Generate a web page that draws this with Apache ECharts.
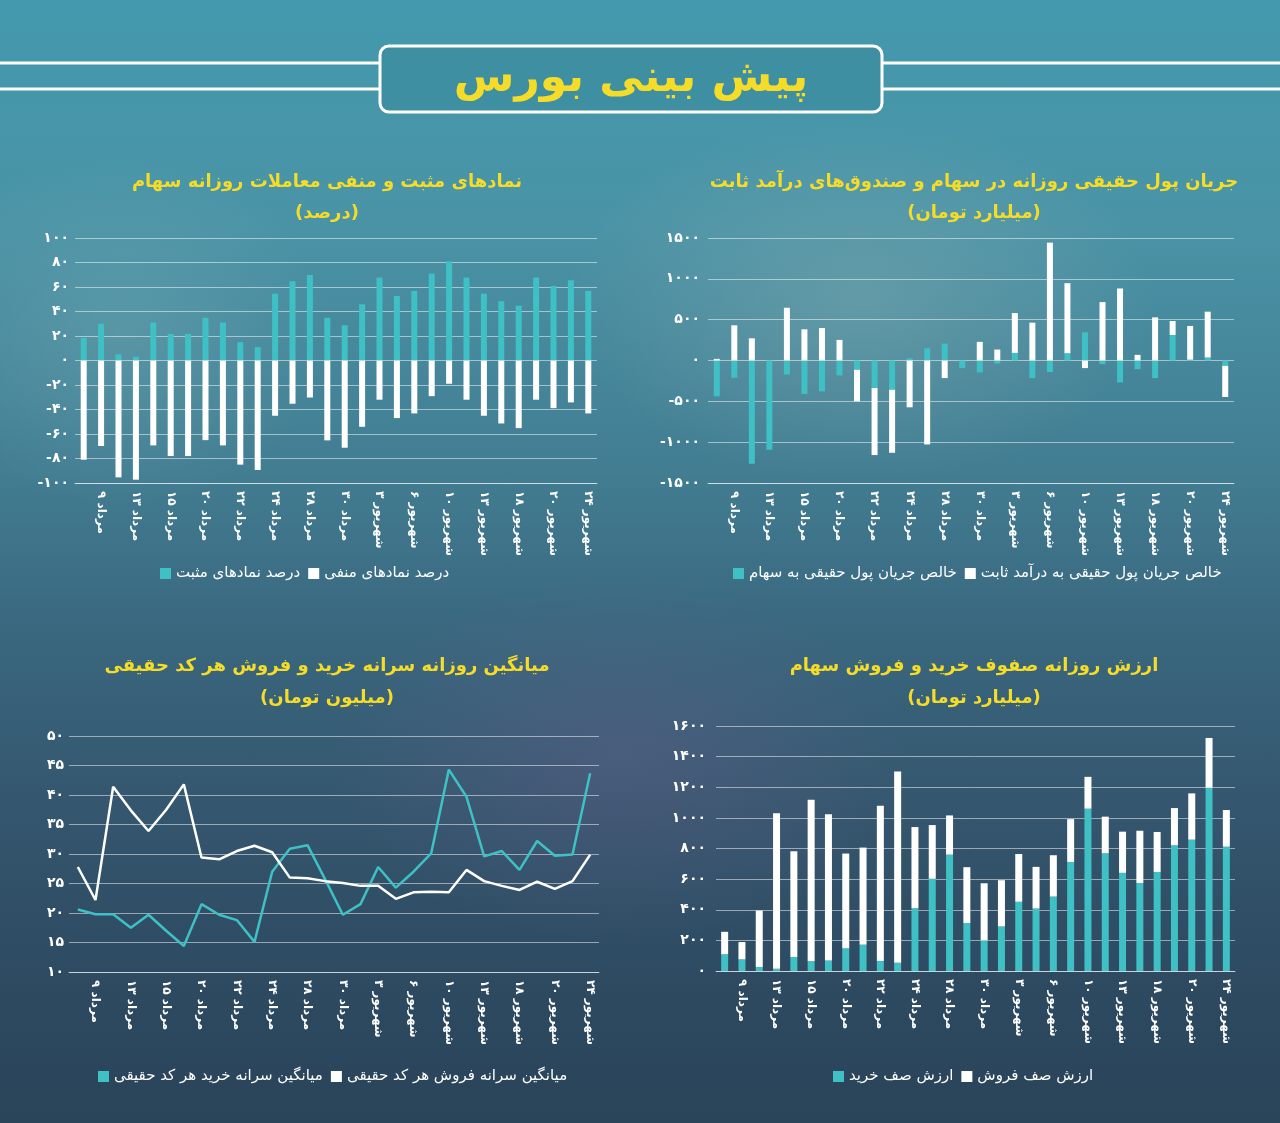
<!DOCTYPE html>
<html>
<head>
<meta charset="utf-8">
<script src="https://cdn.jsdelivr.net/npm/echarts@6/dist/echarts.min.js"></script>
<style>
html,body{margin:0;padding:0;}
body{width:1280px;height:1123px;overflow:hidden;
background:
 radial-gradient(ellipse 420px 260px at 860px 300px, rgba(150,180,180,0.35), rgba(150,180,180,0) 70%),
 radial-gradient(ellipse 300px 250px at 120px 330px, rgba(130,180,185,0.30), rgba(130,180,185,0) 70%),
 radial-gradient(ellipse 420px 260px at 620px 760px, rgba(110,95,140,0.35), rgba(110,95,140,0) 70%),
 linear-gradient(180deg, #4399ad 0%, #4a93a6 20%, #427d92 42%, #3a6980 55%, #34566e 72%, #2d4a61 88%, #2a4459 100%);}
#main{width:1280px;height:1123px;}
</style>
</head>
<body>
<div id="main"></div>
<script>
// ---------- data ----------
const dates = ['۸ مرداد','۹ مرداد','۱۰ مرداد','۱۳ مرداد','۱۴ مرداد','۱۵ مرداد','۱۶ مرداد','۲۰ مرداد','۲۱ مرداد','۲۲ مرداد','۲۳ مرداد','۲۴ مرداد','۲۷ مرداد','۲۸ مرداد','۲۹ مرداد','۳۰ مرداد','۳۱ مرداد','۳ شهریور','۴ شهریور','۶ شهریور','۷ شهریور','۱۰ شهریور','۱۱ شهریور','۱۳ شهریور','۱۴ شهریور','۱۸ شهریور','۱۹ شهریور','۲۰ شهریور','۲۱ شهریور','۲۴ شهریور'];

// chart 1: positive / negative symbols (%)
const positivePct = [18.5,30,5,3,31,21.7,21.7,34.8,31,15,10.9,54.6,64.7,69.8,34.8,28.8,45.9,67.7,52.7,56.8,70.9,81,67.7,54.6,48.4,44.8,67.7,60.9,65.5,56.8];
const negativePct = [-81,-69.8,-95.4,-97.3,-69.3,-78,-78,-65,-69.3,-85,-89.4,-45.1,-35.3,-30.2,-65.2,-71.2,-54.1,-32,-47,-43.2,-29.1,-19,-32,-45.1,-51.4,-55.2,-32,-38.9,-34.2,-43.2];

// chart 2: net real money flow (billion toman)
const flowStocks = [-439,-211,-1264,-1093,-171,-411,-378,-183,-114,-337,-358,28,150,207,-93,-146,-37,93,-215,-142,89,345,-45,-268,-106,-215,313,10,37,-65];
const flowFixed  = [20,431,272,0,646,382,398,252,-386,-821,-772,-573,-1028,-215,0,228,134,488,463,1443,858,-93,715,882,69,528,171,413,561,-382];

// chart 3: average per-capita buy / sell (million toman)
const perCapitaBuy  = [20.6,19.8,19.8,17.5,19.7,17.0,14.4,21.5,19.7,18.8,15.1,27.0,30.9,31.5,25.7,19.7,21.5,27.8,24.3,27.0,30.1,44.3,39.7,29.6,30.5,27.3,32.2,29.7,29.9,43.7];
const perCapitaSell = [27.8,22.2,41.4,37.4,33.9,37.5,41.8,29.4,29.1,30.5,31.4,30.3,26.0,25.9,25.4,25.1,24.6,24.6,22.4,23.5,23.6,23.5,27.3,25.4,24.6,23.9,25.3,24.1,25.4,29.9];

// chart 4: buy / sell queue value (billion toman)
const buyQueue  = [109,76,26,15,91,63,69,148,172,65,54,410,602,760,313,200,291,452,408,486,712,1060,769,641,575,647,821,858,1197,812];
const sellQueue = [147,113,369,1016,691,1055,954,619,634,1014,1249,530,351,256,365,373,302,312,272,270,280,208,239,269,341,261,243,302,325,239];

const names = {
  pos:'درصد نمادهای مثبت', neg:'درصد نمادهای منفی',
  stk:'خالص جریان پول حقیقی به سهام', fix:'خالص جریان پول حقیقی به درآمد ثابت',
  buy:'میانگین سرانه خرید هر کد حقیقی', sell:'میانگین سرانه فروش هر کد حقیقی',
  bq:'ارزش صف خرید', sq:'ارزش صف فروش'
};

// ---------- helpers ----------
const FONT = 'DejaVu Sans';
const TEAL = '#3fc0c4';
const YELLOW = '#f4dc28';
const LEG_FS = 15, ICON = 11, GAP = 8;
function fa(v){ return String(v).replace(/\d/g, d => '۰۱۲۳۴۵۶۷۸۹'[d]); }

const mctx = document.createElement('canvas').getContext('2d');
mctx.font = LEG_FS + 'px "DejaVu Sans"';
function legendWidth(a,b){
  return ICON + 5 + mctx.measureText(a).width + GAP + ICON + 5 + mctx.measureText(b).width;
}

const grids = [
  {left:75,  top:238, width:522, height:245},
  {left:708, top:238, width:526, height:245},
  {left:69,  top:736, width:530, height:236},
  {left:716, top:726, width:519, height:245}
];
const yCfg = [
  {min:-100,max:100,interval:20,margin:6},
  {min:-1500,max:1500,interval:500,margin:8},
  {min:10,max:50,interval:5,margin:5},
  {min:0,max:1600,interval:200,margin:10}
];
const gridColor = 'rgba(255,255,255,0.5)';

const xAxes = grids.map((g,i)=>({
  type:'category', gridIndex:i, data:dates, boundaryGap:true,
  axisLine:{show:true,onZero:false,lineStyle:{color:gridColor,width:1}},
  axisTick:{show:false},
  axisLabel:{rotate:-90, interval:(idx)=>idx%2===1, color:'#fff', fontSize:12, fontWeight:'bold', fontFamily:FONT, margin:8}
}));
const yAxes = yCfg.map((c,i)=>({
  type:'value', gridIndex:i, min:c.min, max:c.max, interval:c.interval,
  axisLine:{show:false}, axisTick:{show:false},
  splitLine:{lineStyle:{color:gridColor,width:1}},
  axisLabel:{color:'#fff', fontSize:14, fontWeight:'bold', fontFamily:FONT, margin:c.margin, formatter:v=>fa(v)}
}));

function legend(cx, y, a, b){
  return {left:Math.round(cx - legendWidth(a,b)/2), top:y, data:[a,b], icon:'rect', itemWidth:ICON, itemHeight:ICON, itemGap:GAP,
    textStyle:{color:'#fff', fontSize:LEG_FS, fontFamily:FONT}, padding:0};
}
function tText(cx, cy, t, size){
  return {type:'text', x:cx, y:cy, style:{text:t, fill:YELLOW, font:'bold '+size+'px "DejaVu Sans"', align:'center', verticalAlign:'middle'}};
}

const chart = echarts.init(document.getElementById('main'), null, {renderer:'canvas'});
chart.setOption({
  backgroundColor:'transparent',
  animation:false,
  grid:grids,
  xAxis:xAxes,
  yAxis:yAxes,
  legend:[
    legend(305, 566, names.pos, names.neg),
    legend(977, 566, names.stk, names.fix),
    legend(333, 1069, names.buy, names.sell),
    legend(963, 1069, names.bq, names.sq)
  ],
  graphic:[
    {type:'line', shape:{x1:0,y1:63,x2:380,y2:63}, style:{stroke:'#fff',lineWidth:3}},
    {type:'line', shape:{x1:0,y1:89,x2:380,y2:89}, style:{stroke:'#fff',lineWidth:3}},
    {type:'line', shape:{x1:882,y1:63,x2:1280,y2:63}, style:{stroke:'#fff',lineWidth:3}},
    {type:'line', shape:{x1:882,y1:89,x2:1280,y2:89}, style:{stroke:'#fff',lineWidth:3}},
    {type:'rect', shape:{x:380,y:46,width:502,height:66,r:9}, style:{fill:'rgba(62,140,160,0.75)',stroke:'#fff',lineWidth:3}},
    tText(631, 80, 'پیش بینی بورس', 44),
    tText(327, 182, 'نمادهای مثبت و منفی معاملات روزانه سهام', 18),
    tText(327, 213, '(درصد)', 18),
    tText(974, 182, 'جریان پول حقیقی روزانه در سهام و صندوق‌های درآمد ثابت', 18),
    tText(974, 213, '(میلیارد تومان)', 18),
    tText(327, 666, 'میانگین روزانه سرانه خرید و فروش هر کد حقیقی', 18),
    tText(327, 698, '(میلیون تومان)', 18),
    tText(974, 666, 'ارزش روزانه صفوف خرید و فروش سهام', 18),
    tText(974, 698, '(میلیارد تومان)', 18)
  ],
  series:[
    {name:names.pos, type:'bar', xAxisIndex:0, yAxisIndex:0, stack:'s1', barWidth:6, data:positivePct, itemStyle:{color:TEAL}},
    {name:names.neg, type:'bar', xAxisIndex:0, yAxisIndex:0, stack:'s1', barWidth:6, data:negativePct, itemStyle:{color:'#fff'}},
    {name:names.stk, type:'bar', xAxisIndex:1, yAxisIndex:1, stack:'s2', barWidth:6, data:flowStocks, itemStyle:{color:TEAL}},
    {name:names.fix, type:'bar', xAxisIndex:1, yAxisIndex:1, stack:'s2', barWidth:6, data:flowFixed, itemStyle:{color:'#fff'}},
    {name:names.buy, type:'line', xAxisIndex:2, yAxisIndex:2, data:perCapitaBuy, symbol:'none', lineStyle:{color:TEAL,width:2.5}, itemStyle:{color:TEAL}},
    {name:names.sell, type:'line', xAxisIndex:2, yAxisIndex:2, data:perCapitaSell, symbol:'none', lineStyle:{color:'#fff',width:2.5}, itemStyle:{color:'#fff'}},
    {name:names.bq, type:'bar', xAxisIndex:3, yAxisIndex:3, stack:'s4', barWidth:7, data:buyQueue, itemStyle:{color:TEAL}},
    {name:names.sq, type:'bar', xAxisIndex:3, yAxisIndex:3, stack:'s4', barWidth:7, data:sellQueue, itemStyle:{color:'#fff'}}
  ]
});
</script>
</body>
</html>
